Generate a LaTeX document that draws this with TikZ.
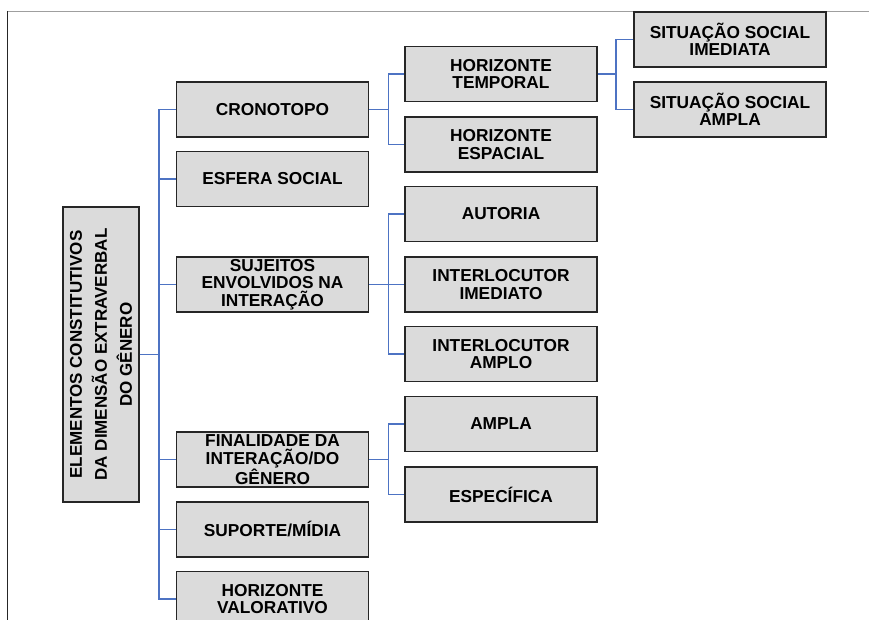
\documentclass[tikz,border=0pt]{standalone}
\usepackage{fontspec}
\setmainfont{Liberation Sans}
\definecolor{boxfill}{HTML}{DBDBDB}
\definecolor{boxline}{HTML}{262626}
\definecolor{linkblue}{HTML}{4D73C3}
\tikzset{
  stepbox/.style={draw=boxline, line width=1.8pt, fill=boxfill,
    minimum width=192pt, minimum height=55pt, inner sep=2pt, align=center,
    font=\fontsize{17.3pt}{17.5pt}\selectfont\bfseries},
  rootbox/.style={draw=boxline, line width=1.8pt, fill=boxfill, rotate=90,
    minimum width=295pt, minimum height=76pt, inner sep=2pt, align=center,
    font=\fontsize{17pt}{25pt}\selectfont\bfseries},
  link/.style={draw=linkblue, line width=1.8pt}
}
\begin{document}
\begin{tikzpicture}[x=1pt,y=-1pt]
\useasboundingbox (0,0) rectangle (869,620);
\clip (0,0) rectangle (869,620);
% frame
\draw[gray!75, line width=1pt] (7.5,11.5) -- (869,11.5);
\draw[black!85, line width=1.6pt] (7.5,11) -- (7.5,620);
% root
\node[rootbox] (root) at (101,354.5) {ELEMENTOS CONSTITUTIVOS\\DA DIMENSÃO EXTRAVERBAL\\DO GÊNERO};
% level 1
\node[stepbox] (crono) at (272.5,109.5) {CRONOTOPO};
\node[stepbox] (esfera) at (272.5,179) {ESFERA SOCIAL};
\node[stepbox] (sujeitos) at (272.5,284.5) {SUJEITOS\\ENVOLVIDOS NA\\INTERAÇÃO};
\node[stepbox] (final) at (272.5,459.5) {FINALIDADE DA\\INTERAÇÃO/DO\\GÊNERO};
\node[stepbox] (suporte) at (272.5,529.5) {SUPORTE/MÍDIA};
\node[stepbox] (valor) at (272.5,599) {HORIZONTE\\VALORATIVO};
% level 2
\node[stepbox] (htemp) at (501,74) {HORIZONTE\\TEMPORAL};
\node[stepbox] (hesp) at (501,144.5) {HORIZONTE\\ESPACIAL};
\node[stepbox] (autoria) at (501,214) {AUTORIA};
\node[stepbox] (intim) at (501,284.5) {INTERLOCUTOR\\IMEDIATO};
\node[stepbox] (intam) at (501,354) {INTERLOCUTOR\\AMPLO};
\node[stepbox] (ampla) at (501,424) {AMPLA};
\node[stepbox] (espec) at (501,494.5) {ESPECÍFICA};
% level 3
\node[stepbox] (ssim) at (730,39.5) {SITUAÇÃO SOCIAL\\IMEDIATA};
\node[stepbox] (ssam) at (730,109.5) {SITUAÇÃO SOCIAL\\AMPLA};
% connectors
\foreach \c in {crono,esfera,sujeitos,final,suporte,valor}
  \draw[link] (root.south) -- ++(19,0) |- (\c.west);
\foreach \c in {htemp,hesp}
  \draw[link] (crono.east) -- ++(19,0) |- (\c.west);
\foreach \c in {autoria,intim,intam}
  \draw[link] (sujeitos.east) -- ++(19,0) |- (\c.west);
\foreach \c in {ampla,espec}
  \draw[link] (final.east) -- ++(19,0) |- (\c.west);
\foreach \c in {ssim,ssam}
  \draw[link] (htemp.east) -- ++(18,0) |- (\c.west);
\end{tikzpicture}
\end{document}
